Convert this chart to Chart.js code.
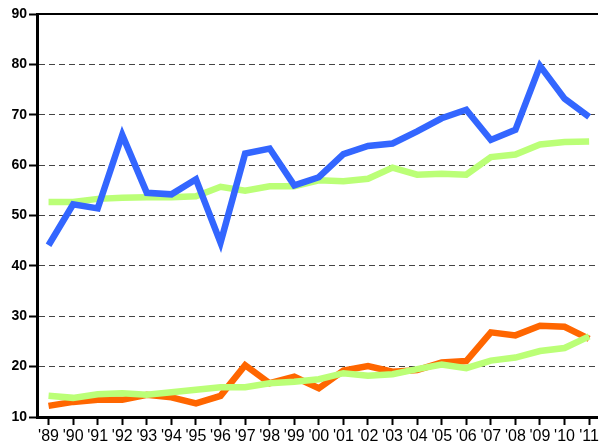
<!DOCTYPE html>
<html lang="en">
<head>
  <meta charset="UTF-8" />
  <title>Chart</title>
  <script src="https://cdn.jsdelivr.net/npm/chart.js"></script>
  <style>
    html, body { margin: 0; padding: 0; background: #fff; }
    .wrap { width: 601px; height: 447px; }
  </style>
</head>
<body>
  <div class="wrap"><canvas id="chart"></canvas></div>
  <script>
    // data
    const years = ["'89","'90","'91","'92","'93","'94","'95","'96","'97","'98","'99","'00","'01","'02","'03","'04","'05","'06","'07","'08","'09","'10","'11"];
    const blueSeries = [44.1, 52.2, 51.4, 66.0, 54.5, 54.2, 57.2, 44.6, 62.3, 63.3, 56.0, 57.6, 62.2, 63.8, 64.3, 66.7, 69.3, 71.0, 65.0, 67.0, 79.7, 73.2, 69.6];
    const greenUpper = [52.7, 52.7, 53.3, 53.5, 53.6, 53.6, 53.8, 55.7, 54.9, 55.8, 55.8, 57.0, 56.8, 57.3, 59.5, 58.1, 58.3, 58.1, 61.6, 62.1, 64.1, 64.6, 64.7];
    const greenLower = [14.2, 13.8, 14.5, 14.7, 14.4, 14.9, 15.4, 15.9, 15.9, 16.7, 17.0, 17.5, 18.7, 18.2, 18.5, 19.5, 20.4, 19.7, 21.2, 21.8, 23.1, 23.7, 26.0];
    const orangeSeries = [12.2, 13.0, 13.4, 13.4, 14.4, 13.9, 12.7, 14.2, 20.3, 16.7, 18.0, 15.7, 19.2, 20.1, 19.0, 19.3, 20.8, 21.1, 26.8, 26.2, 28.1, 27.9, 25.5];
    const yTicks = [10, 20, 30, 40, 50, 60, 70, 80, 90];

    const toPoints = arr => arr.map((v, i) => ({ x: i, y: v }));

    function line(data, color, order) {
      return {
        data: toPoints(data),
        borderColor: color,
        backgroundColor: color,
        borderWidth: 6.5,
        pointRadius: 0,
        tension: 0,
        fill: false,
        order: order
      };
    }

    new Chart(document.getElementById('chart'), {
      type: 'line',
      data: {
        datasets: [
          line(blueSeries, '#3366ff', 0),
          line(greenUpper, '#bbff77', 1),
          line(greenLower, '#bbff77', 2),
          line(orangeSeries, '#ff6600', 3)
        ]
      },
      options: {
        responsive: true,
        maintainAspectRatio: false,
        animation: false,
        layout: { padding: { top: 14, right: 0, left: 0, bottom: 0 } },
        plugins: { legend: { display: false }, tooltip: { enabled: false } },
        scales: {
          x: {
            type: 'linear',
            min: -0.47,
            max: 22.36,
            afterBuildTicks: axis => { axis.ticks = years.map((_, i) => ({ value: i })); },
            afterFit: axis => { axis.height = 30; },
            ticks: {
              callback: v => years[v],
              color: '#000',
              font: { family: 'Liberation Sans, Arial', size: 16 },
              padding: 2,
              maxRotation: 0,
              autoSkip: false
            },
            grid: { drawOnChartArea: false, tickLength: 8, tickColor: '#000', tickWidth: 2 },
            border: { color: '#000', width: 3 }
          },
          xTop: {
            type: 'linear',
            position: 'top',
            min: 0, max: 1,
            afterFit: axis => { axis.height = 0; },
            ticks: { display: false },
            grid: { display: false },
            border: { color: '#000', width: 2 }
          },
          y: {
            min: 10,
            max: 90,
            afterBuildTicks: axis => { axis.ticks = yTicks.map(v => ({ value: v })); },
            afterFit: axis => { axis.width = 37; },
            ticks: {
              color: '#000',
              font: { family: 'Liberation Sans, Arial', size: 14, weight: 'bold' },
              padding: 2
            },
            grid: {
              color: '#444',
              lineWidth: 1,
              tickLength: 8,
              tickColor: '#000',
              tickWidth: 2
            },
            border: { color: '#000', width: 3, dash: [6, 4] }
          }
        }
      }
    });
  </script>
</body>
</html>
